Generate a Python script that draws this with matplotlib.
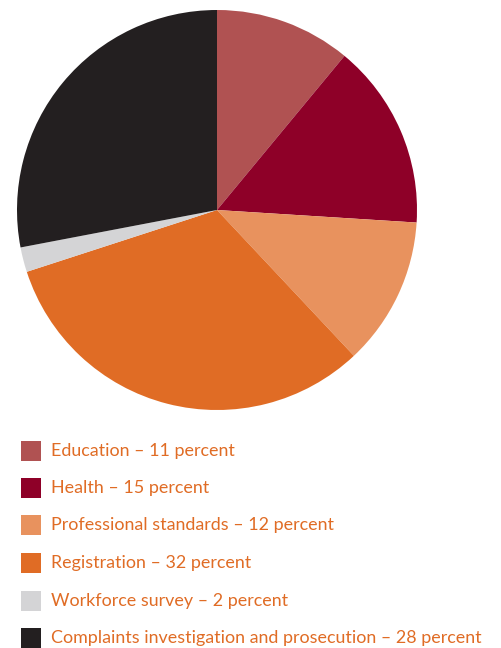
import matplotlib
matplotlib.use("Agg")
import matplotlib.pyplot as plt
from matplotlib.patches import Rectangle

labels = ["Education", "Health", "Professional standards", "Registration",
          "Workforce survey", "Complaints investigation and prosecution"]
values = [11, 15, 12, 32, 2, 28]
colors = ["#B05252", "#8E0028", "#E8925E", "#E06C25", "#D4D4D6", "#231F20"]
text_color = "#E06C25"

W, H = 502, 648
fig = plt.figure(figsize=(W / 100, H / 100), dpi=100)
ax = fig.add_axes([0, 0, 1, 1])

# pie in pixel coords, y measured from bottom
ax.pie(values, colors=colors, startangle=90, counterclock=False,
       center=(217, H - 210), radius=200, frame=True,
       wedgeprops=dict(linewidth=0))

# legend rows
row_y = [451, 488, 525, 563, 601, 638]
for lab, val, col, y in zip(labels, values, colors, row_y):
    ax.add_patch(Rectangle((21, H - y - 10), 20, 20, facecolor=col, linewidth=0))
    ax.text(51, H - y, f"{lab} \u2013 {val} percent", color=text_color,
            fontsize=12.85, family="Lato", va="center", ha="left")

ax.set_xlim(0, W)
ax.set_ylim(0, H)
ax.set_aspect("equal")
ax.axis("off")

fig.savefig("out.png", dpi=100)
